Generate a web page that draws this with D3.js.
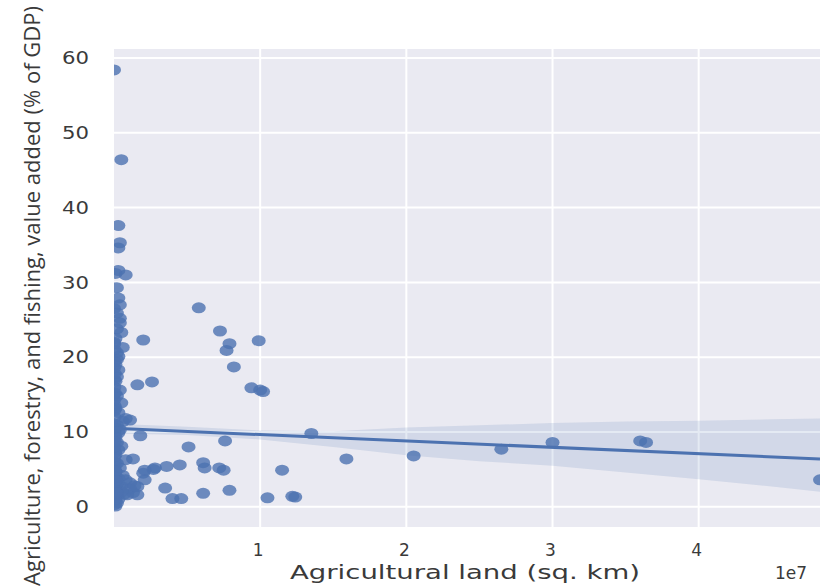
<!DOCTYPE html>
<html>
<head>
<meta charset="utf-8">
<script src="https://cdn.jsdelivr.net/npm/d3@7"></script>
<style>
  body { margin: 0; background: #fff; }
  svg { display: block; }
</style>
</head>
<body>
<div class="chart"></div>
<script>
// agricultural land (sq. km) and agri share of GDP
const landKm = [
  0, 500000, 300000, 400000, 300000, 300000, 800000, 100000, 200000, 300000,
  400000, 200000, 400000, 400000, 200000, 500000, 100000, 600000, 200000, 300000,
  200000, 100000, 300000, 200000, 100000, 400000, 200000, 500000, 100000, 300000,
  800000, 1100000, 600000, 200000, 400000, 300000, 100000, 200000, 500000, 300000,
  100000, 800000, 1300000, 200000, 400000, 100000, 600000, 300000, 800000, 1100000,
  200000, 500000, 1100000, 400000, 1300000, 700000, 100000, 1600000, 900000, 300000,
  200000, 100000, 500000, 1400000, 0, 0, 0, 0,
  1600000, 2600000, 2000000, 1800000, 2000000, 2100000, 1600000, 2700000, 3600000, 4500000,
  5100000, 3500000, 4000000, 4600000, 5800000, 7250000, 7900000, 7700000, 8200000, 9900000,
  9400000, 10000000, 10200000, 7600000, 6100000, 6200000, 7200000, 7500000, 6100000, 7900000,
  10500000, 12200000, 12400000, 11500000, 13500000, 15900000, 20500000, 26500000, 30000000, 36000000,
  36400000, 48300000, 2100000, 2800000,
  20000, 50000, 10000, 30000, 60000, 20000, 40000, 10000, 50000, 30000,
  20000, 60000, 10000, 40000, 30000, 20000, 50000, 10000, 30000, 40000,
  20000, 10000, 60000, 30000, 20000, 50000, 10000, 40000, 30000, 20000,
  70000, 90000, 120000, 150000, 60000, 100000, 180000, 80000, 140000, 110000
];
const agriPct = [
  58.4, 46.4, 37.6, 35.3, 34.6, 31.6, 31.0, 31.2, 29.3, 27.9,
  27.0, 25.9, 25.2, 24.6, 23.8, 23.3, 22.5, 21.3, 20.6, 20.1,
  19.7, 19.0, 18.3, 17.4, 16.8, 15.6, 14.8, 13.9, 13.2, 12.6,
  11.8, 11.6, 11.4, 10.9, 10.3, 9.9, 9.3, 8.6, 8.1, 7.6,
  7.0, 6.3, 6.4, 5.8, 5.2, 4.7, 4.2, 3.8, 3.6, 3.2,
  3.0, 2.7, 2.4, 2.3, 1.9, 1.7, 1.4, 1.6, 1.6, 1.0,
  0.5, 0.1, 2.0, 2.8, 1.2, 15.0, 26.5, 22.0,
  16.3, 16.7, 22.3, 9.5, 4.5, 3.6, 2.7, 5.0, 5.4, 5.6,
  8.0, 2.5, 1.1, 1.1, 26.6, 23.5, 21.8, 20.9, 18.7, 22.2,
  15.9, 15.6, 15.4, 8.8, 5.9, 5.2, 5.2, 4.9, 1.8, 2.2,
  1.2, 1.4, 1.3, 4.9, 9.8, 6.4, 6.8, 7.7, 8.6, 8.8,
  8.6, 3.6, 4.9, 5.2,
  0.3, 0.8, 1.5, 2.1, 2.6, 3.4, 4.0, 4.4, 5.5, 6.0,
  6.7, 7.3, 8.0, 8.8, 9.6, 10.1, 10.6, 11.1, 12.0, 12.9,
  13.6, 14.3, 15.2, 16.0, 17.0, 17.8, 18.6, 19.4, 21.0, 21.8,
  3.3, 2.9, 2.1, 1.3, 1.0, 3.9, 1.8, 4.8, 3.5, 1.9
];
// fitted line and its confidence band
const fitX = [0, 48300000];
const fitY = [10.5, 6.4];
const bandX = [0, 5000000, 10000000, 15000000, 20000000, 25000000, 30000000, 35000000, 40000000, 45000000, 48300000];
const bandLow = [9.8, 9.6, 9.0, 8.0, 6.9, 6.1, 5.5, 4.6, 3.7, 2.7, 2.0];
const bandHigh = [11.1, 10.7, 10.2, 10.1, 10.6, 10.9, 11.2, 11.4, 11.5, 11.7, 11.8];
const xTicks = [10000000, 20000000, 30000000, 40000000];
const yTicks = [0, 10, 20, 30, 40, 50, 60];

const Width = 822, Height = 586;
const pL = 114, pT = 49, pR = 820, pB = 527;
const blue = '#4c72b0';
const txt = '#3a3a3a';

const svg = d3.select('.chart').append('svg').attr('width', Width).attr('height', Height);
const X = d3.scaleLinear().domain([0, 48300000]).range([pL, pR]);
const Y = d3.scaleLinear().domain([-2.7, 61.2]).range([pB, pT]);

svg.append('defs').append('clipPath').attr('id', 'plot')
  .append('rect').attr('x', pL).attr('y', pT).attr('width', pR - pL).attr('height', pB - pT);

svg.append('rect').attr('x', pL).attr('y', pT).attr('width', pR - pL).attr('height', pB - pT)
  .attr('fill', '#eaeaf2');

// grid
svg.append('g').selectAll('line').data(yTicks).enter().append('line')
  .attr('x1', pL).attr('x2', pR).attr('y1', d => Y(d)).attr('y2', d => Y(d))
  .attr('stroke', '#fff').attr('stroke-width', 2);
svg.append('g').selectAll('line').data(xTicks).enter().append('line')
  .attr('y1', pT).attr('y2', pB).attr('x1', d => X(d)).attr('x2', d => X(d))
  .attr('stroke', '#fff').attr('stroke-width', 2);

const plot = svg.append('g').attr('clip-path', 'url(#plot)');

plot.selectAll('ellipse').data(landKm).enter().append('ellipse')
  .attr('cx', d => X(d)).attr('cy', (d, i) => Y(agriPct[i]))
  .attr('rx', 7).attr('ry', 5.5)
  .attr('fill', blue).attr('fill-opacity', 0.8);

const area = d3.area().x(d => X(d)).y0((d, i) => Y(bandLow[i])).y1((d, i) => Y(bandHigh[i]));
plot.append('path').datum(bandX).attr('d', area).attr('fill', blue).attr('fill-opacity', 0.15);

const line = d3.line().x(d => X(d)).y((d, i) => Y(fitY[i]));
plot.append('path').datum(fitX).attr('d', line).attr('fill', 'none')
  .attr('stroke', blue).attr('stroke-width', 3);

// tick labels
const font = 'DejaVu Sans, sans-serif';
svg.append('g').selectAll('text').data(yTicks).enter().append('text')
  .attr('x', 89).attr('y', d => Y(d)).attr('dy', '0.36em').attr('text-anchor', 'end')
  .attr('font-family', font).attr('font-size', 17).attr('fill', txt)
  .attr('textLength', d => String(d).length * 13.5).attr('lengthAdjust', 'spacingAndGlyphs')
  .text(d => d);
svg.append('g').selectAll('text').data(xTicks).enter().append('text')
  .attr('x', d => X(d) - 2).attr('y', 556).attr('text-anchor', 'middle')
  .attr('font-family', font).attr('font-size', 17).attr('fill', txt)
  .text(d => d / 1e7);

svg.append('text').attr('x', 465).attr('y', 579).attr('text-anchor', 'middle')
  .attr('font-family', font).attr('font-size', 20).attr('fill', txt)
  .attr('textLength', 350).attr('lengthAdjust', 'spacingAndGlyphs')
  .text('Agricultural land (sq. km)');
svg.append('text').attr('x', 791).attr('y', 579).attr('text-anchor', 'middle')
  .attr('font-family', font).attr('font-size', 17).attr('fill', txt)
  .text('1e7');

svg.append('text').attr('transform', 'translate(40,296) rotate(-90)').attr('text-anchor', 'middle')
  .attr('font-family', 'Open Sans, sans-serif').attr('font-size', 21).attr('fill', txt)
  .attr('textLength', 580).attr('lengthAdjust', 'spacingAndGlyphs')
  .text('Agriculture, forestry, and fishing, value added (% of GDP)');
</script>
</body>
</html>
